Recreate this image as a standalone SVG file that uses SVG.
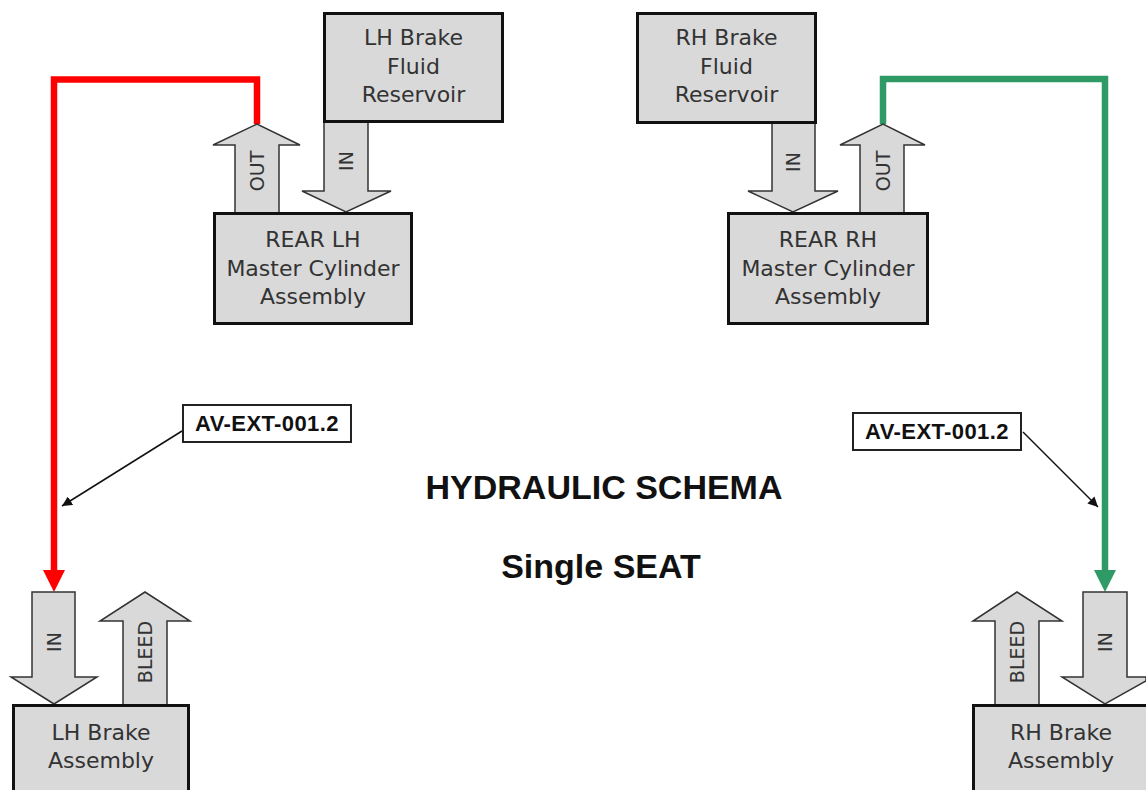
<svg xmlns="http://www.w3.org/2000/svg" width="1146" height="790" viewBox="0 0 1146 790">
<style>
.box{fill:#d9d9d9;stroke:#111;stroke-width:3}
.arr{fill:#d9d9d9;stroke:#333;stroke-width:1.5;stroke-linejoin:miter}
.bt{font-family:"DejaVu Sans",Verdana,sans-serif;font-size:22px;fill:#333;text-anchor:middle}
.at{font-family:"DejaVu Sans",Verdana,sans-serif;font-size:19px;fill:#333;text-anchor:middle}
.tt{font-family:"Liberation Sans",Arial,sans-serif;font-weight:bold;font-size:34px;fill:#111;text-anchor:middle}
.lb{fill:#fff;stroke:#222;stroke-width:2}
.lt{font-family:"Liberation Sans",Arial,sans-serif;font-weight:bold;font-size:22px;letter-spacing:0.4px;fill:#111;text-anchor:middle}
.ptr{stroke:#111;stroke-width:1.5;fill:none;marker-end:url(#ah)}
</style>
<defs>
<marker id="ah" viewBox="0 0 10 10" refX="10" refY="5" markerWidth="10" markerHeight="10" markerUnits="userSpaceOnUse" orient="auto">
<path d="M0,0 L10,5 L0,10 Z" fill="#111"/>
</marker>
</defs>
<rect width="1146" height="790" fill="#fff"/>

<g id="connectors">
<path d="M257,124 V79.5 H54 V572" fill="none" stroke="#f00" stroke-width="6.5"/>
<polygon points="43,570 65,570 54,592" fill="#f00"/>
<path d="M883,124 V79 H1105 V572" fill="none" stroke="#2f9a66" stroke-width="6.5"/>
<polygon points="1094,570 1116,570 1105,592" fill="#2f9a66"/>
<line class="ptr" x1="182" y1="431" x2="62" y2="506"/>
<line class="ptr" x1="1023" y1="432" x2="1098" y2="507"/>
</g>

<g id="flow-arrows">
<g id="lh-out"><polygon class="arr" points="235,213 235,145 213,145 257,124 300,145 279,145 279,213"/>
<text class="at" transform="translate(257,171) rotate(-90)" dy="0.36em">OUT</text></g>
<g id="lh-in"><polygon class="arr" points="324,122 368,122 368,191 391,191 346,212 302,191 324,191"/>
<text class="at" transform="translate(346,161) rotate(-90)" dy="0.36em">IN</text></g>
<g id="rh-in"><polygon class="arr" points="772,123 815,123 815,191 838,191 793,212 748,191 772,191"/>
<text class="at" transform="translate(793,162) rotate(-90)" dy="0.36em">IN</text></g>
<g id="rh-out"><polygon class="arr" points="860,213 860,145 840,145 883,124 925,145 904,145 904,213"/>
<text class="at" transform="translate(883,171) rotate(-90)" dy="0.36em">OUT</text></g>
<g id="lhb-in"><polygon class="arr" points="32,592 75,592 75,677 97,677 54,704 11,677 32,677"/>
<text class="at" transform="translate(54,642) rotate(-90)" dy="0.36em">IN</text></g>
<g id="lhb-bleed"><polygon class="arr" points="123,705 123,621 100,621 145,592 190,621 167,621 167,705"/>
<text class="at" transform="translate(145,652) rotate(-90)" dy="0.36em">BLEED</text></g>
<g id="rhb-bleed"><polygon class="arr" points="995,705 995,621 973,621 1017,592 1062,621 1039,621 1039,705"/>
<text class="at" transform="translate(1017,652) rotate(-90)" dy="0.36em">BLEED</text></g>
<g id="rhb-in"><polygon class="arr" points="1083,592 1127,592 1127,677 1146,677 1146,681 1105,704 1062,677 1083,677"/>
<text class="at" transform="translate(1105,642) rotate(-90)" dy="0.36em">IN</text></g>
</g>

<g id="lh-reservoir"><rect class="box" x="324.5" y="13.5" width="178" height="108"/>
<text class="bt" x="413.5" y="45">LH Brake</text><text class="bt" x="413.5" y="74">Fluid</text><text class="bt" x="413.5" y="102">Reservoir</text></g>
<g id="rear-lh"><rect class="box" x="214.5" y="213.5" width="197" height="110"/>
<text class="bt" x="313" y="247">REAR LH</text><text class="bt" x="313" y="276">Master Cylinder</text><text class="bt" x="313" y="304">Assembly</text></g>
<g id="rh-reservoir"><rect class="box" x="637.5" y="13.5" width="178" height="109"/>
<text class="bt" x="726.5" y="45">RH Brake</text><text class="bt" x="726.5" y="74">Fluid</text><text class="bt" x="726.5" y="102">Reservoir</text></g>
<g id="rear-rh"><rect class="box" x="728.5" y="213.5" width="199" height="110"/>
<text class="bt" x="828" y="247">REAR RH</text><text class="bt" x="828" y="276">Master Cylinder</text><text class="bt" x="828" y="304">Assembly</text></g>
<g id="lh-brake"><rect class="box" x="13.5" y="705.5" width="175" height="100"/>
<text class="bt" x="101" y="740">LH Brake</text><text class="bt" x="101" y="768">Assembly</text></g>
<g id="rh-brake"><rect class="box" x="973.5" y="705.5" width="175" height="100"/>
<text class="bt" x="1061" y="740">RH Brake</text><text class="bt" x="1061" y="768">Assembly</text></g>

<g id="label-left"><rect class="lb" x="183" y="405" width="168" height="37"/><text class="lt" x="267" y="431">AV-EXT-001.2</text></g>
<g id="label-right"><rect class="lb" x="853" y="413" width="168" height="37"/><text class="lt" x="937" y="439">AV-EXT-001.2</text></g>

<g id="title">
<text class="tt" x="604" y="499">HYDRAULIC SCHEMA</text>
<text class="tt" x="601" y="578">Single SEAT</text>
</g>
</svg>
